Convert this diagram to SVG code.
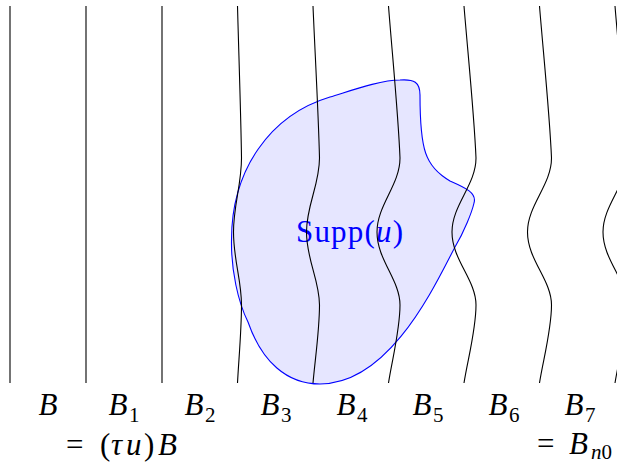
<svg xmlns="http://www.w3.org/2000/svg" width="617" height="464" viewBox="0 0 617 464">
<style>
.ln{fill:none;stroke:#000;stroke-width:1.1}
.blob{fill:#e6e6ff;stroke:#0000ff;stroke-width:1.1}
.t{font-family:"Liberation Serif",serif;font-size:31px;fill:#000}
.i{font-style:italic}
.s{font-size:21px;font-style:normal}
.si{font-size:21px;font-style:italic}
</style>
<g id="support">
<path class="blob" d="M400,80 C414,79 420,82 420,95 C420,150 425,166 450,181 C466,188 477,193 474,203 C472,212 464,232 455,247 C435,285 390,384 320,384 C287,384 262,362 248,322 C238,302 231,270 231.5,240 C231.5,170 270,115 330,97 C350,91 380,80 400,80 Z"/>
<text class="t" x="296" y="242" textLength="107" lengthAdjust="spacing" style="fill:#0000ff">Supp(<tspan class="i">u</tspan>)</text>
</g>
<g id="connectors">
<path class="ln" d="M10,6 V383"/>
<path class="ln" d="M86,6 V383"/>
<path class="ln" d="M162,6 V383"/>
<path class="ln" d="M237.5,6 C238.8,55 240.9,115 241.5,158 C241.5,185 233.5,205 233.5,232 C233.5,260 241.5,280 241.5,305 C241.5,330 238.7,360 237.5,383"/>
<path class="ln" d="M313,6 C315.1,55 318.5,115 319.5,158 C319.5,185 306.5,205 306.5,232 C306.5,260 319.5,280 319.5,305 C319.5,330 315,360 313,383"/>
<path class="ln" d="M388.5,6 C392.3,55 398.3,115 400,158 C400,185 377,205 377,232 C377,260 400,280 400,305 C400,330 392,360 388.5,383"/>
<path class="ln" d="M464,6 C468,55 474.2,115 476,158 C476,185 452,205 452,232 C452,260 476,280 476,305 C476,330 467.6,360 464,383"/>
<path class="ln" d="M539.5,6 C543.5,55 549.7,115 551.5,158 C551.5,185 527.5,205 527.5,232 C527.5,260 551.5,280 551.5,305 C551.5,330 543.1,360 539.5,383"/>
<path class="ln" d="M615,6 C619,55 625.2,115 627,158 C627,185 603,205 603,232 C603,260 627,280 627,305 C627,330 618.6,360 615,383"/>
</g>
<g id="labels">
<text class="t i" x="48" y="415" text-anchor="middle">B</text>
<text class="t i" x="124" y="415" text-anchor="middle">B<tspan class="s" dx="1.5" dy="6.5">1</tspan></text>
<text class="t i" x="200" y="415" text-anchor="middle">B<tspan class="s" dx="1.5" dy="6.5">2</tspan></text>
<text class="t i" x="276" y="415" text-anchor="middle">B<tspan class="s" dx="1.5" dy="6.5">3</tspan></text>
<text class="t i" x="352" y="415" text-anchor="middle">B<tspan class="s" dx="1.5" dy="6.5">4</tspan></text>
<text class="t i" x="428" y="415" text-anchor="middle">B<tspan class="s" dx="1.5" dy="6.5">5</tspan></text>
<text class="t i" x="504" y="415" text-anchor="middle">B<tspan class="s" dx="1.5" dy="6.5">6</tspan></text>
<text class="t i" x="580" y="415" text-anchor="middle">B<tspan class="s" dx="1.5" dy="6.5">7</tspan></text>
<text class="t" y="455"><tspan x="66">=</tspan><tspan x="100">(</tspan><tspan class="i" x="111">τ</tspan><tspan class="i" x="126">u</tspan><tspan x="144">)</tspan><tspan class="i" x="158">B</tspan></text>
<text class="t" y="454"><tspan x="537">=</tspan><tspan class="i" x="569">B</tspan><tspan class="si" x="591" dy="5">n</tspan><tspan class="s">0</tspan></text>
</g>
</svg>
